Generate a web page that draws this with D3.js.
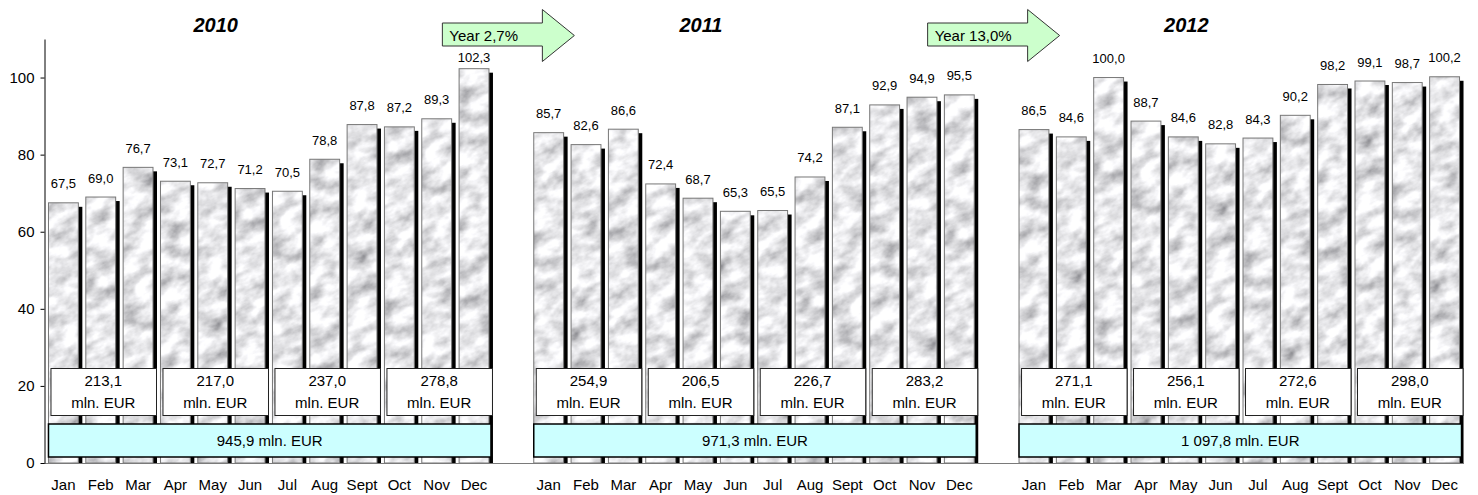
<!DOCTYPE html>
<html>
<head>
<meta charset="utf-8">
<script src="https://cdn.jsdelivr.net/npm/d3@7"></script>
<style>
  html, body { margin: 0; padding: 0; background: #fff; }
  svg { display: block; font-family: "Liberation Sans", Arial, sans-serif; }
</style>
</head>
<body>
<svg id="chart" width="1478" height="495"></svg>
<script>
// Monthly values (mln. EUR) per year
const years = ["2010", "2011", "2012"];
const months = ["Jan", "Feb", "Mar", "Apr", "May", "Jun", "Jul", "Aug", "Sept", "Oct", "Nov", "Dec"];
const values2010 = [67.5, 69.0, 76.7, 73.1, 72.7, 71.2, 70.5, 78.8, 87.8, 87.2, 89.3, 102.3];
const values2011 = [85.7, 82.6, 86.6, 72.4, 68.7, 65.3, 65.5, 74.2, 87.1, 92.9, 94.9, 95.5];
const values2012 = [86.5, 84.6, 100.0, 88.7, 84.6, 82.8, 84.3, 90.2, 98.2, 99.1, 98.7, 100.2];
// Quarterly and yearly totals
const quarters2010 = [213.1, 217.0, 237.0, 278.8];
const quarters2011 = [254.9, 206.5, 226.7, 283.2];
const quarters2012 = [271.1, 256.1, 272.6, 298.0];
const yearTotals = [945.9, 971.3, 1097.8];
// Year-over-year growth, %
const growth = [2.7, 13.0];
const yTicks = [0, 20, 40, 60, 80, 100];

const yearValues = [values2010, values2011, values2012];
const yearQuarters = [quarters2010, quarters2011, quarters2012];

const locale = d3.formatLocale({ decimal: ",", thousands: " ", grouping: [3], currency: ["", ""] });
const fmt1 = locale.format(",.1f");

const svg = d3.select("#chart");

// One slot per month, plus an empty slot between consecutive years
const keys = [];
years.forEach((yr, i) => {
  months.forEach(m => keys.push(yr + "-" + m));
  if (i < years.length - 1) keys.push("gap-" + i);
});

const x = d3.scaleBand().domain(keys).range([44, 1464]).paddingInner(0.2).paddingOuter(0.12);
const y = d3.scaleLinear().domain([0, 110]).range([463, 39]);
const bw = x.bandwidth();

// Marble-like texture for the bars
const defs = svg.append("defs");
const noise = defs.append("filter").attr("id", "noise")
  .attr("x", 0).attr("y", 0).attr("width", 1).attr("height", 1);
noise.append("feTurbulence").attr("type", "fractalNoise")
  .attr("baseFrequency", "0.045 0.07").attr("numOctaves", 4).attr("seed", 11)
  .attr("stitchTiles", "stitch");
noise.append("feColorMatrix").attr("type", "matrix")
  .attr("values", "1.2 0 0 0 0.2  1.2 0 0 0 0.2  1.2 0 0 0 0.22  0 0 0 0 1");
const pat = defs.append("pattern").attr("id", "marble")
  .attr("patternUnits", "userSpaceOnUse").attr("width", 160).attr("height", 160)
  .attr("patternTransform", "rotate(-25)");
pat.append("rect").attr("width", 160).attr("height", 160).attr("filter", "url(#noise)");

// Bars
const bars = [];
years.forEach((yr, i) => {
  yearValues[i].forEach((v, j) => bars.push({ key: yr + "-" + months[j], v }));
});

const gBars = svg.append("g");
gBars.selectAll("rect.shadow").data(bars).join("rect")
  .attr("class", "shadow")
  .attr("x", d => x(d.key) + 4)
  .attr("y", d => y(d.v) + 4)
  .attr("width", bw)
  .attr("height", d => y(0) - y(d.v) - 4)
  .attr("fill", "#000");
gBars.selectAll("rect.bar").data(bars).join("rect")
  .attr("class", "bar")
  .attr("x", d => x(d.key))
  .attr("y", d => y(d.v))
  .attr("width", bw)
  .attr("height", d => y(0) - y(d.v))
  .attr("fill", "url(#marble)")
  .attr("stroke", "#777")
  .attr("stroke-width", 1);

// Value labels above bars
svg.append("g").selectAll("text").data(bars).join("text")
  .attr("x", d => x(d.key) + bw / 2)
  .attr("y", d => Math.max(y(d.v) - 19, 57) + 4.5)
  .attr("text-anchor", "middle")
  .attr("font-size", 13)
  .attr("fill", "#000")
  .text(d => fmt1(d.v));

// Baseline
svg.append("line")
  .attr("x1", 44).attr("x2", 1464)
  .attr("y1", y(0) + 0.5).attr("y2", y(0) + 0.5)
  .attr("stroke", "#7a7a7a").attr("stroke-width", 1);

// Y axis
const yAxis = svg.append("g").attr("transform", "translate(44.5,0)")
  .call(d3.axisLeft(y).tickValues(yTicks).tickSize(4).tickSizeOuter(0).tickPadding(6));
yAxis.select(".domain").attr("stroke", "#000");
yAxis.selectAll(".tick line").attr("stroke", "#000");
yAxis.selectAll(".tick text").attr("font-size", 15).attr("fill", "#000")
  .attr("font-family", "Liberation Sans, Arial, sans-serif");

// Month labels
const monthKeys = keys.filter(k => !k.startsWith("gap"));
const xAxis = svg.append("g").attr("transform", "translate(0," + y(0) + ")")
  .call(d3.axisBottom(x).tickValues(monthKeys).tickSize(0).tickPadding(16)
    .tickFormat(k => k.split("-")[1]));
xAxis.select(".domain").remove();
xAxis.selectAll(".tick text").attr("font-size", 15).attr("fill", "#000")
  .attr("font-family", "Liberation Sans, Arial, sans-serif");

// Quarter totals
const qBoxes = [];
years.forEach((yr, i) => {
  yearQuarters[i].forEach((q, k) => {
    const first = x(yr + "-" + months[k * 3]);
    const last = x(yr + "-" + months[k * 3 + 2]);
    qBoxes.push({ x0: first + 2, x1: last + bw + 3, v: q });
  });
});
const gQ = svg.append("g");
const qTop = y(0) - 95, qH = 47;
gQ.selectAll("rect").data(qBoxes).join("rect")
  .attr("x", d => d.x0 + 0.5).attr("y", qTop + 0.5)
  .attr("width", d => d.x1 - d.x0).attr("height", qH)
  .attr("fill", "#fff").attr("stroke", "#222").attr("stroke-width", 1);
gQ.selectAll("text.qv").data(qBoxes).join("text").attr("class", "qv")
  .attr("x", d => (d.x0 + d.x1) / 2).attr("y", qTop + 17.5)
  .attr("text-anchor", "middle").attr("font-size", 15).text(d => fmt1(d.v));
gQ.selectAll("text.qu").data(qBoxes).join("text").attr("class", "qu")
  .attr("x", d => (d.x0 + d.x1) / 2).attr("y", qTop + 40)
  .attr("text-anchor", "middle").attr("font-size", 15).text("mln. EUR");

// Year totals
const yBoxes = years.map((yr, i) => ({
  x0: x(yr + "-Jan"), x1: x(yr + "-Dec") + bw + 2, v: yearTotals[i]
}));
const yTop = y(0) - 39, yH = 33;
const gY = svg.append("g");
gY.selectAll("rect").data(yBoxes).join("rect")
  .attr("x", d => d.x0).attr("y", yTop)
  .attr("width", d => d.x1 - d.x0).attr("height", yH)
  .attr("fill", "#ccffff").attr("stroke", "#000").attr("stroke-width", 1.5);
gY.selectAll("text").data(yBoxes).join("text")
  .attr("x", d => (d.x0 + d.x1) / 2).attr("y", yTop + yH / 2 + 5.5)
  .attr("text-anchor", "middle").attr("font-size", 15)
  .text(d => fmt1(d.v) + " mln. EUR");

// Year titles, centred over May
svg.append("g").selectAll("text").data(years).join("text")
  .attr("x", yr => x(yr + "-May") + bw / 2 + 3)
  .attr("y", 32)
  .attr("text-anchor", "middle")
  .attr("font-size", 20).attr("font-weight", "bold").attr("font-style", "italic")
  .text(yr => yr);

// Growth arrows across the gaps between years
const arrows = growth.map((g, i) => ({ cx: x("gap-" + i) + bw / 2 - 3, v: g }));
const gA = svg.append("g");
gA.selectAll("path").data(arrows).join("path")
  .attr("d", d => {
    const L = d.cx - 66, T = d.cx + 66, Hb = T - 32;
    return `M${L},23 L${Hb},23 L${Hb},9.5 L${T},35.5 L${Hb},61.5 L${Hb},46 L${L},46 Z`;
  })
  .attr("fill", "#ccffcc").attr("stroke", "#333").attr("stroke-width", 1);
gA.selectAll("text").data(arrows).join("text")
  .attr("x", d => d.cx - 59).attr("y", 40.5)
  .attr("font-size", 15)
  .text(d => "Year " + locale.format(".1f")(d.v) + "%");
</script>
</body>
</html>
